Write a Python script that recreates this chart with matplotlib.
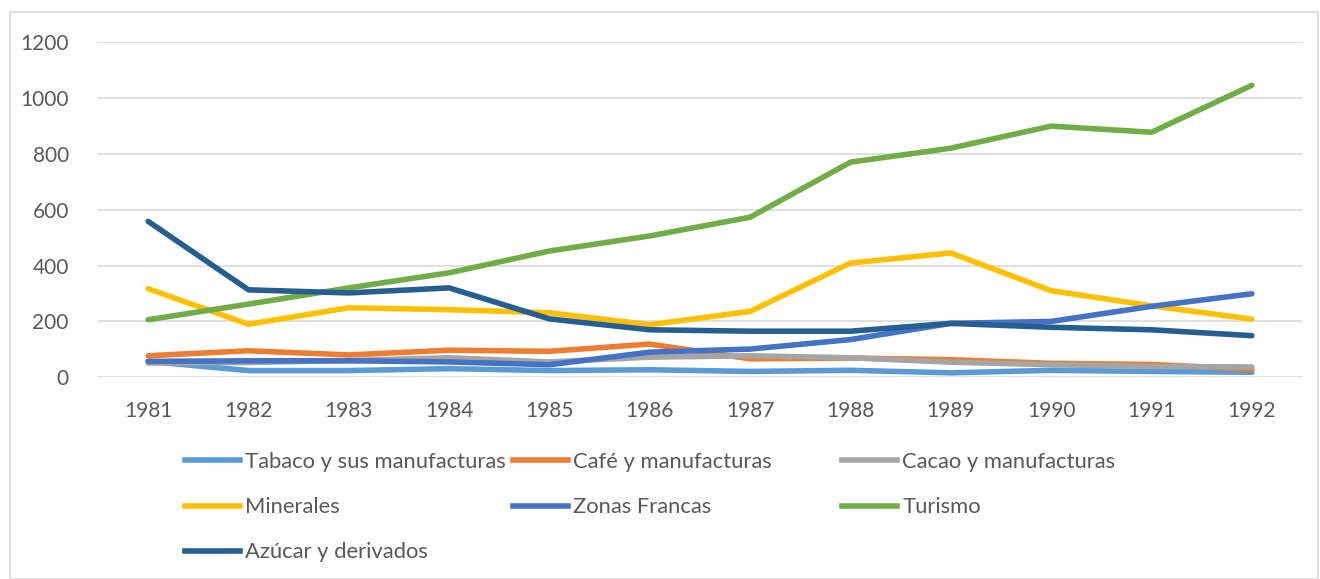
import numpy as np
import matplotlib.pyplot as plt
from matplotlib.lines import Line2D
from matplotlib.patches import Rectangle

# --- datos -------------------------------------------------------------------
anios = ["1981", "1982", "1983", "1984", "1985", "1986",
         "1987", "1988", "1989", "1990", "1991", "1992"]

tabaco = [57, 24, 24, 31, 24, 27, 21, 25, 16, 25, 21, 18]
cafe = [77, 95, 80, 97, 93, 119, 66, 69, 63, 50, 46, 29]
cacao = [51, 53, 60, 70, 55, 72, 77, 70, 54, 45, 39, 37]
minerales = [317, 190, 249, 242, 231, 188, 236, 409, 445, 310, 256, 208]
zonas_francas = [57, 59, 59, 55, 45, 90, 101, 135, 193, 200, 254, 299]
turismo = [206, 262, 320, 374, 452, 506, 573, 770, 820, 899, 877, 1045]
azucar = [558, 313, 302, 320, 209, 170, 165, 165, 193, 179, 170, 149]

series = [
    ("Tabaco y sus manufacturas", tabaco, "#5B9BD5"),
    ("Café y manufacturas", cafe, "#ED7D31"),
    ("Cacao y manufacturas", cacao, "#A5A5A5"),
    ("Minerales", minerales, "#FFC000"),
    ("Zonas Francas", zonas_francas, "#4472C4"),
    ("Turismo", turismo, "#70AD47"),
    ("Azúcar y derivados", azucar, "#255E91"),
]

# --- estilo ------------------------------------------------------------------
plt.rcParams["font.family"] = ["Lato", "DejaVu Sans"]
GRIS_TXT = "#595959"
GRIS_LIN = "#D9D9D9"
FS = 15
FS_LEG = 15.8

W, H = 1320, 579
fig = plt.figure(figsize=(W / 100, H / 100), dpi=100)
fig.patch.set_facecolor("white")

# borde exterior del gráfico
fig.patches.append(Rectangle((10 / W, 0), 1308 / W, 1 - 12 / H,
                             transform=fig.transFigure, fill=False,
                             edgecolor=GRIS_LIN, linewidth=1.2))

ax = fig.add_axes([98 / W, 1 - 377.3 / H, 1204 / W, 335.3 / H])

x = np.arange(len(anios))
for nombre, valores, color in series:
    ax.plot(x, valores, color=color, linewidth=4, label=nombre,
            solid_capstyle="round", solid_joinstyle="round")

ax.set_xlim(-0.5, len(anios) - 0.5)
ax.set_ylim(0, 1200)
ax.set_yticks(np.arange(0, 1201, 200))
ax.set_xticks(x)
ax.set_xticklabels(anios)
ax.grid(axis="y", color=GRIS_LIN, linewidth=1.2)
ax.set_axisbelow(True)
for s in ax.spines.values():
    s.set_visible(False)
ax.tick_params(length=0, labelsize=FS, labelcolor=GRIS_TXT)
ax.tick_params(axis="y", pad=21)
ax.tick_params(axis="x", pad=17)

# --- leyenda: tres columnas de ancho fijo -----------------------------------
handles = {n: Line2D([], [], color=c, linewidth=4) for n, _, c in series}
columnas = [
    ["Tabaco y sus manufacturas", "Minerales", "Azúcar y derivados"],
    ["Café y manufacturas", "Zonas Francas"],
    ["Cacao y manufacturas", "Turismo"],
]
x_col = [185, 513, 842]
for nombres, xc in zip(columnas, x_col):
    leg = fig.legend([handles[n] for n in nombres], nombres,
                     loc="upper left", bbox_to_anchor=(xc / W, 1 - 452 / H),
                     bbox_transform=fig.transFigure, frameon=False,
                     fontsize=FS_LEG, handlelength=2.5, handletextpad=0.25,
                     labelspacing=1.15, borderpad=0, borderaxespad=0)
    for t in leg.get_texts():
        t.set_color(GRIS_TXT)

fig.savefig("out.png", dpi=100, facecolor="white")
